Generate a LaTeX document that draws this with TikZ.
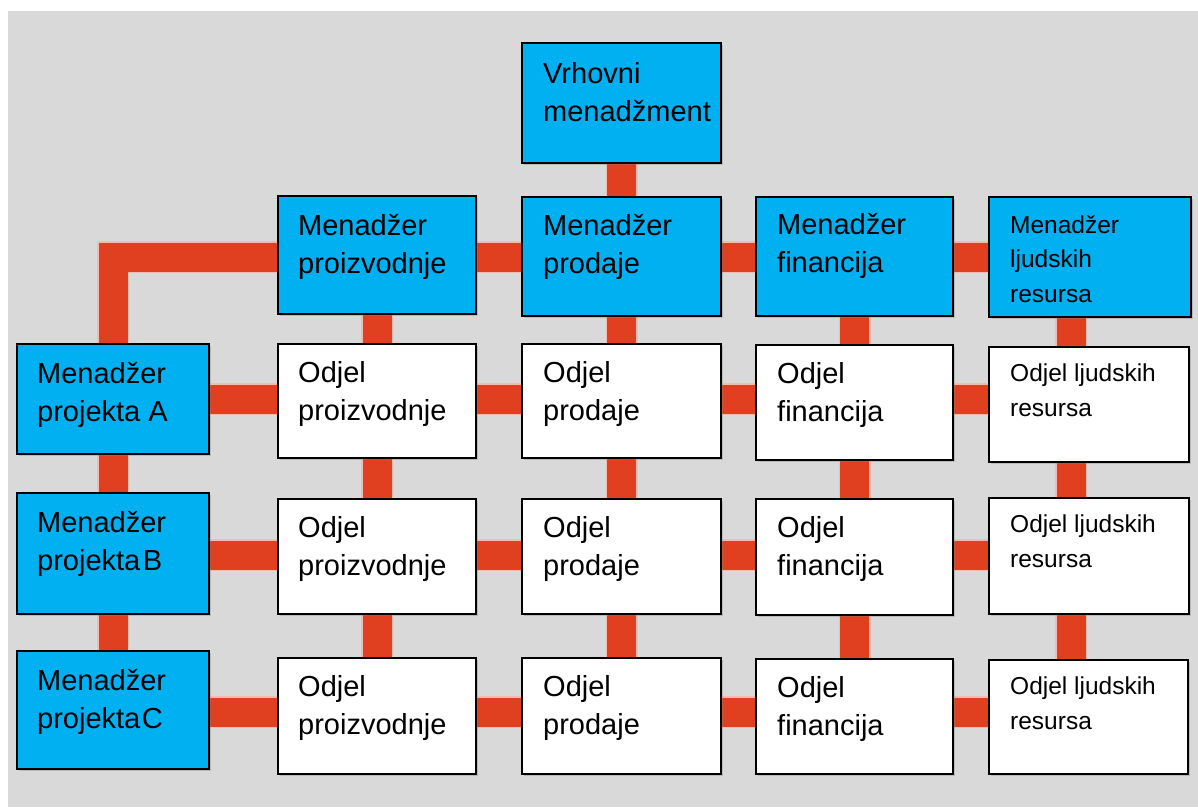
\documentclass[tikz,border=0pt]{standalone}
\usepackage{fontspec}
\setmainfont{Liberation Sans}
\usetikzlibrary{backgrounds,shadows}
\definecolor{bggray}{RGB}{217,217,217}
\definecolor{boxblue}{RGB}{0,176,240}
\definecolor{conred}{RGB}{224,64,32}
\pgfdeclarelayer{bgfill}
\pgfsetlayers{bgfill,background,main}
\begin{document}
\begin{tikzpicture}[x=1pt,y=-1pt,
  box/.style={draw=black, line width=2pt, rectangle, inner sep=0pt, anchor=north west,
    drop shadow={shadow xshift=2pt,shadow yshift=-2pt,opacity=0.35}},
  mgr/.style={box, fill=boxblue},
  dep/.style={box, fill=white},
  txt/.style={anchor=north west, inner sep=0pt, align=left, font=\fontsize{29}{38.5}\selectfont},
  stxt/.style={txt, font=\fontsize{24.5}{34.5}\selectfont},
  con/.style={draw=conred, line width=29pt,
    preaction={draw=conred!35, line width=32pt}},
]
\useasboundingbox (0,0) rectangle (1198,807);
\begin{pgfonlayer}{bgfill}
  \fill[white] (0,0) rectangle (1198,807);
  \fill[bggray] (8,11) rectangle (1198,807);
\end{pgfonlayer}

% top management
\node[mgr, minimum width=199pt, minimum height=120pt] (top) at (521,42) {};
% functional managers
\node[mgr, minimum width=198pt, minimum height=118pt] (mP) at (277,195) {};
\node[mgr, minimum width=199pt, minimum height=119pt] (mS) at (521,196) {};
\node[mgr, minimum width=197pt, minimum height=119pt] (mF) at (755,196) {};
\node[mgr, minimum width=202pt, minimum height=120pt] (mL) at (988,196) {};
% project managers
\node[mgr, minimum width=192pt, minimum height=110pt] (pA) at (16,343) {};
\node[mgr, minimum width=192pt, minimum height=121pt] (pB) at (16,492) {};
\node[mgr, minimum width=192pt, minimum height=118pt] (pC) at (16,650) {};
% departments row A
\node[dep, minimum width=198pt, minimum height=114pt] (PA) at (277,343) {};
\node[dep, minimum width=199pt, minimum height=114pt] (SA) at (521,343) {};
\node[dep, minimum width=197pt, minimum height=115pt] (FA) at (755,344) {};
\node[dep, minimum width=200pt, minimum height=115pt] (LA) at (988,346) {};
% row B
\node[dep, minimum width=198pt, minimum height=115pt] (PB) at (277,498) {};
\node[dep, minimum width=199pt, minimum height=115pt] (SB) at (521,498) {};
\node[dep, minimum width=197pt, minimum height=116pt] (FB) at (755,498) {};
\node[dep, minimum width=200pt, minimum height=116pt] (LB) at (988,497) {};
% row C
\node[dep, minimum width=198pt, minimum height=116pt] (PC) at (277,657) {};
\node[dep, minimum width=199pt, minimum height=116pt] (SC) at (521,657) {};
\node[dep, minimum width=197pt, minimum height=115pt] (FC) at (755,658) {};
\node[dep, minimum width=199pt, minimum height=114pt] (LC) at (988,659) {};

% texts
\node[txt] (t-top) at ([shift={(22pt,-20pt)}]top.north west) {Vrhovni\\menadžment};
\node[txt] (t-mP) at ([shift={(21pt,-19pt)}]mP.north west) {Menadžer\\proizvodnje};
\node[txt] (t-mS) at ([shift={(22pt,-18pt)}]mS.north west) {Menadžer\\prodaje};
\node[txt] (t-mF) at ([shift={(22pt,-17pt)}]mF.north west) {Menadžer\\financija};
\node[stxt] (t-mL) at ([shift={(22pt,-19pt)}]mL.north west) {Menadžer\\ljudskih\\resursa};
\node[txt] (t-pA) at ([shift={(21pt,-19pt)}]pA.north west) {Menadžer\\projekta A};
\node[txt] (t-pB) at ([shift={(21pt,-19pt)}]pB.north west) {Menadžer\\projekta\hspace{2.5pt}B};
\node[txt] (t-pC) at ([shift={(21pt,-19pt)}]pC.north west) {Menadžer\\projekta\hspace{1.5pt}C};
\foreach \r in {A,B,C}{
  \node[txt] (t-P\r) at ([shift={(21pt,-18pt)}]P\r.north west) {Odjel\\proizvodnje};
  \node[txt] (t-S\r) at ([shift={(22pt,-18pt)}]S\r.north west) {Odjel\\prodaje};
  \node[txt] (t-F\r) at ([shift={(22pt,-18pt)}]F\r.north west) {Odjel\\financija};
  \node[stxt] (t-L\r) at ([shift={(22pt,-18pt)}]L\r.north west) {Odjel ljudskih\\resursa};
}

% connectors
\coordinate (c0) at (113,257);
\coordinate (lx) at (1071,0);
\begin{pgfonlayer}{background}
  \draw[con] (top.center) -- (mS.center);
  \draw[con] (mL.center |- c0) -- (c0) -- (c0 |- pC.center);
  \draw[con] (mP.center) -- (PC.center);
  \draw[con] (mS.center) -- (SC.center);
  \draw[con] (mF.center) -- (FC.center);
  \draw[con] (mL.center -| lx) -- (LC.center -| lx);
  \coordinate (rA) at (0,399);
  \coordinate (rB) at (0,555);
  \coordinate (rC) at (0,712);
  \draw[con] (pA.center |- rA) -- (LA.center |- rA);
  \draw[con] (pB.center |- rB) -- (LB.center |- rB);
  \draw[con] (pC.center |- rC) -- (LC.center |- rC);
\end{pgfonlayer}
\end{tikzpicture}
\end{document}
